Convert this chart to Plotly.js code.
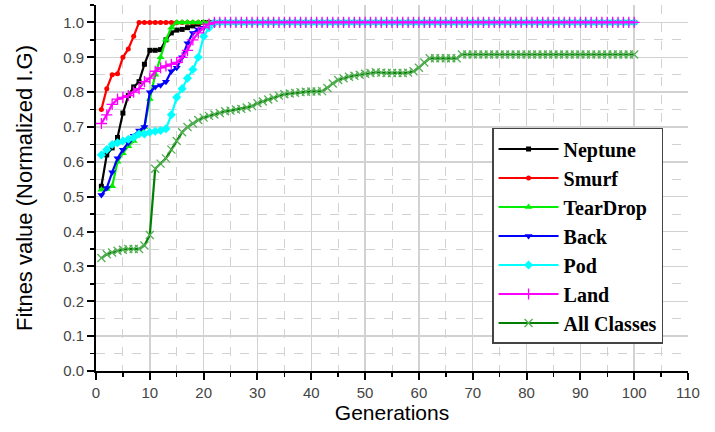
<!DOCTYPE html>
<html>
<head>
<meta charset="utf-8">
<script src="https://cdn.plot.ly/plotly-3.0.1.min.js"></script>
<style>html,body{margin:0;padding:0;background:#fff;}#chart{width:715px;height:432px;}</style>
</head>
<body>
<div id="chart"></div>
<script>
// Generations 1..100
const generations = [1,2,3,4,5,6,7,8,9,10,11,12,13,14,15,16,17,18,19,20,21,22,23,24,25,26,27,28,29,30,31,32,33,34,35,36,37,38,39,40,41,42,43,44,45,46,47,48,49,50,51,52,53,54,55,56,57,58,59,60,61,62,63,64,65,66,67,68,69,70,71,72,73,74,75,76,77,78,79,80,81,82,83,84,85,86,87,88,89,90,91,92,93,94,95,96,97,98,99,100];

const neptune = [0.53,0.62,0.64,0.67,0.74,0.79,0.815,0.83,0.88,0.92,0.92,0.922,0.95,0.97,0.978,0.98,0.985,0.99,0.995,1,
1,1,1,1,1,1,1,1,1,1,1,1,1,1,1,1,1,1,1,1,1,1,1,1,1,1,1,1,1,1,1,1,1,1,1,1,1,1,1,1,1,1,1,1,1,1,1,1,1,1,1,1,1,1,1,1,1,1,1,1,1,1,1,1,1,1,1,1,1,1,1,1,1,1,1,1,1,1,1,1];

const smurf = [0.75,0.81,0.85,0.853,0.9,0.924,0.96,1,1,1,
1,1,1,1,1,1,1,1,1,1,1,1,1,1,1,1,1,1,1,1,1,1,1,1,1,1,1,1,1,1,1,1,1,1,1,1,1,1,1,1,1,1,1,1,1,1,1,1,1,1,1,1,1,1,1,1,1,1,1,1,1,1,1,1,1,1,1,1,1,1,1,1,1,1,1,1,1,1,1,1,1,1,1,1,1,1,1,1,1,1];

const tearDrop = [0.52,0.522,0.53,0.6,0.625,0.645,0.66,0.68,0.7,0.78,0.85,0.9,0.95,0.985,1,
1,1,1,1,1,1,1,1,1,1,1,1,1,1,1,1,1,1,1,1,1,1,1,1,1,1,1,1,1,1,1,1,1,1,1,1,1,1,1,1,1,1,1,1,1,1,1,1,1,1,1,1,1,1,1,1,1,1,1,1,1,1,1,1,1,1,1,1,1,1,1,1,1,1,1,1,1,1,1,1,1,1,1,1,1];

const back = [0.505,0.525,0.57,0.61,0.635,0.655,0.675,0.69,0.7,0.8,0.815,0.82,0.83,0.86,0.87,0.9,0.94,0.97,0.98,0.985,0.99,0.995,1,
1,1,1,1,1,1,1,1,1,1,1,1,1,1,1,1,1,1,1,1,1,1,1,1,1,1,1,1,1,1,1,1,1,1,1,1,1,1,1,1,1,1,1,1,1,1,1,1,1,1,1,1,1,1,1,1,1,1,1,1,1,1,1,1,1,1,1,1,1,1,1,1,1,1,1,1,1,1,1,1,1,1];

const pod = [0.62,0.635,0.65,0.655,0.66,0.665,0.67,0.68,0.68,0.685,0.688,0.69,0.695,0.735,0.785,0.81,0.84,0.865,0.9,0.96,0.985,1,
1,1,1,1,1,1,1,1,1,1,1,1,1,1,1,1,1,1,1,1,1,1,1,1,1,1,1,1,1,1,1,1,1,1,1,1,1,1,1,1,1,1,1,1,1,1,1,1,1,1,1,1,1,1,1,1,1,1,1,1,1,1,1,1,1,1,1,1,1,1,1,1,1,1,1,1,1,1,1,1,1,1];

const land = [0.71,0.735,0.765,0.78,0.785,0.79,0.8,0.81,0.83,0.84,0.86,0.87,0.875,0.88,0.885,0.9,0.92,0.95,0.97,0.985,0.995,1,
1,1,1,1,1,1,1,1,1,1,1,1,1,1,1,1,1,1,1,1,1,1,1,1,1,1,1,1,1,1,1,1,1,1,1,1,1,1,1,1,1,1,1,1,1,1,1,1,1,1,1,1,1,1,1,1,1,1,1,1,1,1,1,1,1,1,1,1,1,1,1,1,1,1,1,1,1,1,1,1,1,1];

const allClasses = [0.324,0.335,0.34,0.345,0.348,0.35,0.35,0.35,0.36,0.39,
0.58,0.595,0.61,0.635,0.66,0.685,0.7,0.71,0.72,0.727,
0.732,0.736,0.74,0.745,0.747,0.75,0.752,0.756,0.76,0.768,
0.773,0.779,0.784,0.79,0.794,0.796,0.798,0.8,0.801,0.802,
0.802,0.803,0.812,0.825,0.835,0.84,0.844,0.847,0.85,0.853,
0.855,0.857,0.856,0.855,0.855,0.855,0.855,0.856,0.86,0.87,
0.885,0.897,0.897,0.897,0.897,0.897,0.897,0.908,0.908,0.908,
0.908,0.908,0.908,0.908,0.908,0.908,0.908,0.908,0.908,0.908,
0.908,0.908,0.908,0.908,0.908,0.908,0.908,0.908,0.908,0.908,
0.908,0.908,0.908,0.908,0.908,0.908,0.908,0.908,0.908,0.908];

const seriesNames = ["Neptune","Smurf","TearDrop","Back","Pod","Land","All Classes"];
const seriesData = [neptune, smurf, tearDrop, back, pod, land, allClasses];
const lineColors = ["#000000","#ff0000","#00ee00","#0000ff","#00ffff","#ff00ff","#007f00"];
const markerColors = ["#000000","#ff0000","#00ee00","#0000ff","#00ffff","#ff00ff","#55b055"];
const markerSymbols = ["square","circle","triangle-up","triangle-down","diamond","cross-thin-open","x-thin-open"];
const markerSizes = [5,5,7,7,7,8,8];

const traces = seriesNames.map((name, i) => ({
  x: generations,
  y: seriesData[i],
  name: name,
  type: "scatter",
  mode: "lines+markers",
  line: {color: lineColors[i], width: 2.2},
  marker: {
    symbol: markerSymbols[i],
    size: markerSizes[i],
    color: markerColors[i],
    line: {color: markerColors[i], width: (i >= 5 ? 1.3 : 0)}
  }
}));

const axisCommon = {
  showline: true, linecolor: "#000", linewidth: 2,
  ticks: "outside", ticklen: 7, tickwidth: 2, tickcolor: "#000",
  showgrid: true, gridcolor: "#d2d2d2", gridwidth: 1.5,
  zeroline: false, mirror: false,
  tickfont: {family: "Liberation Sans, Arial, sans-serif", size: 15, color: "#444"}
};

const layout = {
  width: 715, height: 432,
  margin: {l: 96, r: 27, t: 5, b: 61},
  paper_bgcolor: "#fff", plot_bgcolor: "#fff",
  showlegend: true,
  xaxis: Object.assign({}, axisCommon, {
    range: [0, 110], tick0: 0, dtick: 10,
    minor: {dtick: 5, ticks: "outside", ticklen: 4, tickwidth: 1.5, tickcolor: "#000", showgrid: true, gridcolor: "#d2d2d2", griddash: "dash", gridwidth: 1},
    title: {text: "Generations", font: {family: "Liberation Sans, Arial, sans-serif", size: 21, color: "#000"}, standoff: 3}
  }),
  yaxis: Object.assign({}, axisCommon, {
    range: [0, 1.05], tick0: 0, dtick: 0.1, tickformat: ".1f",
    minor: {dtick: 0.05, ticks: "outside", ticklen: 4, tickwidth: 1.5, tickcolor: "#000", showgrid: true, gridcolor: "#d2d2d2", griddash: "dash", gridwidth: 1},
    title: {text: "Fitnes value (Normalized I.G)", font: {family: "Liberation Sans, Arial, sans-serif", size: 22, color: "#000"}, standoff: 24}
  }),
  legend: {
    x: 0.669, y: 0.664, xanchor: "left", yanchor: "top",
    bgcolor: "#fff", bordercolor: "#444", borderwidth: 1.5,
    font: {family: "Liberation Serif, Times New Roman, serif", size: 20, color: "#000", weight: "bold"},
    itemwidth: 60, tracegroupgap: 0
  }
};

Plotly.newPlot("chart", traces, layout, {displayModeBar: false, staticPlot: true});
</script>
</body>
</html>
